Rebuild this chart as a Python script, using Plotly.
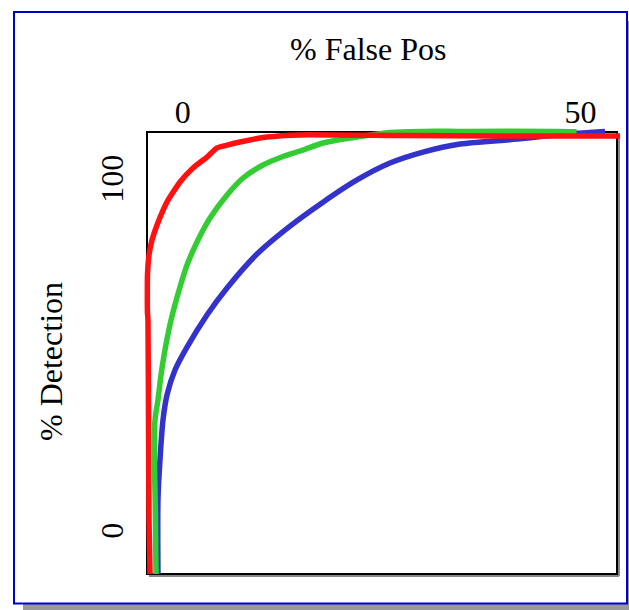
import plotly.graph_objects as go

# ---- data (axis units: % false pos, % detection) ----
red_x = [-4.12, -4.25, -4.31, -4.38, -4.44, -4.46, -4.44, -4.25, -3.87, -3.24, -1.99, -0.35, 1.28, 3.04, 4.30, 5.56, 7.19, 10.59, 14.73, 27.31, 39.88, 54.97]
red_y = [-12.64, 2.70, 28.27, 59.52, 61.5, 66.05, 72.3, 77.98, 82.24, 86.5, 93.04, 98.72, 102.7, 105.8, 108.4, 109.2, 110.1, 111.5, 112.1, 111.9, 111.8, 111.8]

green_x = [-3.37, -3.43, -3.56, -3.50, -3.12, -2.74, -2.24, -1.48, -0.35, 0.53, 1.79, 3.42, 5.56, 7.57, 10.09, 12.60, 14.74, 17.63, 21.90, 26.05, 30.20, 34.86, 47.05, 49.5]
green_y = [-12.64, 2.70, 19.74, 31.1, 36.8, 43.9, 51.0, 59.5, 68.9, 75.14, 81.68, 88.49, 95.03, 99.86, 103.55, 105.97, 107.53, 109.8, 111.5, 112.8, 113.1, 113.1, 113.1, 113.0]

blue_x = [-3.12, -3.12, -2.87, -2.49, -1.99, -0.98, 0.53, 3.04, 5.56, 9.33, 13.48, 17.63, 21.90, 26.05, 30.20, 34.86, 42.03, 47.43, 53.08]
blue_y = [-12.64, 8.38, 19.74, 31.1, 38.2, 45.3, 51.8, 60.94, 68.61, 78.27, 86.2, 93.0, 99.3, 104.1, 107.2, 109.5, 110.9, 112.2, 113.1]

x_ticks = [0, 50]
y_ticks = [0, 100]
x_title = "% False Pos"
y_title = "% Detection"

# ---- layout geometry (pixels) ----
W, H = 629, 610
L, R, T, B = 141, 623, 126, 580  # plot area (slightly larger than frame)


def px(xp):
    return (xp - L) / (R - L)


def py(yp):
    return (B - yp) / (B - T)


FONT = "Liberation Serif, Times New Roman, serif"

fig = go.Figure()
fig.add_trace(go.Scatter(x=blue_x, y=blue_y, mode="lines", line=dict(color="#3333CC", width=5.5, shape="spline", smoothing=0.8), hoverinfo="skip"))
fig.add_trace(go.Scatter(x=green_x, y=green_y, mode="lines", line=dict(color="#33CC33", width=5.5, shape="spline", smoothing=0.8), hoverinfo="skip"))
fig.add_trace(go.Scatter(x=red_x, y=red_y, mode="lines", line=dict(color="#FF1111", width=5.5, shape="spline", smoothing=0.5), hoverinfo="skip"))

shapes = [
    # outer shadow
    dict(type="rect", xref="paper", yref="paper", x0=px(23), x1=px(640), y0=py(21), y1=py(615),
         fillcolor="#999999", line=dict(width=0), layer="below"),
    # outer blue box
    dict(type="rect", xref="paper", yref="paper", x0=px(14), x1=px(627), y0=py(12), y1=py(603.5),
         fillcolor="white", line=dict(color="#0000CC", width=2), layer="below"),
    # frame shadow
    dict(type="line", xref="paper", yref="paper", x0=px(619), x1=px(619), y0=py(134), y1=py(576),
         line=dict(color="#888888", width=2), layer="below"),
    dict(type="line", xref="paper", yref="paper", x0=px(149), x1=px(619), y0=py(576), y1=py(576),
         line=dict(color="#888888", width=2), layer="below"),
    # frame
    dict(type="rect", xref="paper", yref="paper", x0=px(147), x1=px(617), y0=py(132), y1=py(574),
         line=dict(color="black", width=2), layer="below"),
]

# axis scales: x 0 -> 182.8px, 50 -> 580.5px ; y 0 -> 529.5px, 100 -> 177.5px
kx = (580.5 - 182.8) / 50
ky = (529.5 - 177.5) / 100
xr = [(L - 182.8) / kx, (R - 182.8) / kx]
yr = [(529.5 - B) / ky, (529.5 - T) / ky]

fig.update_layout(
    width=W, height=H,
    margin=dict(l=L, r=W - R, t=T, b=H - B, pad=0),
    paper_bgcolor="white", plot_bgcolor="rgba(0,0,0,0)",
    showlegend=False,
    shapes=shapes,
    font=dict(family=FONT, size=32, color="black"),
    xaxis=dict(range=xr, side="top", anchor="free", position=py(138),
               tickvals=x_ticks, ticktext=[str(v) for v in x_ticks],
               showgrid=False, zeroline=False, showline=False,
               ticks="outside", ticklen=2, tickcolor="rgba(0,0,0,0)",
               tickfont=dict(family=FONT, size=32)),
    yaxis=dict(range=yr, tickvals=y_ticks, ticktext=[str(v) for v in y_ticks],
               showgrid=False, zeroline=False, showline=False, tickangle=-90,
               ticks="outside", ticklen=4, tickcolor="rgba(0,0,0,0)",
               ticklabelshift=6,
               tickfont=dict(family=FONT, size=32)),
    annotations=[
        dict(text=x_title, xref="paper", yref="paper", x=px(368), y=py(49),
             xanchor="center", yanchor="middle", showarrow=False,
             font=dict(family=FONT, size=32)),
        dict(text=y_title, xref="paper", yref="paper", x=px(51), y=py(362),
             xanchor="center", yanchor="middle", showarrow=False, textangle=-90,
             font=dict(family=FONT, size=32)),
    ],
)

fig.write_html("out.html", config={"displayModeBar": False},
               post_script="document.body.style.margin='0';document.body.style.overflow='hidden';")
